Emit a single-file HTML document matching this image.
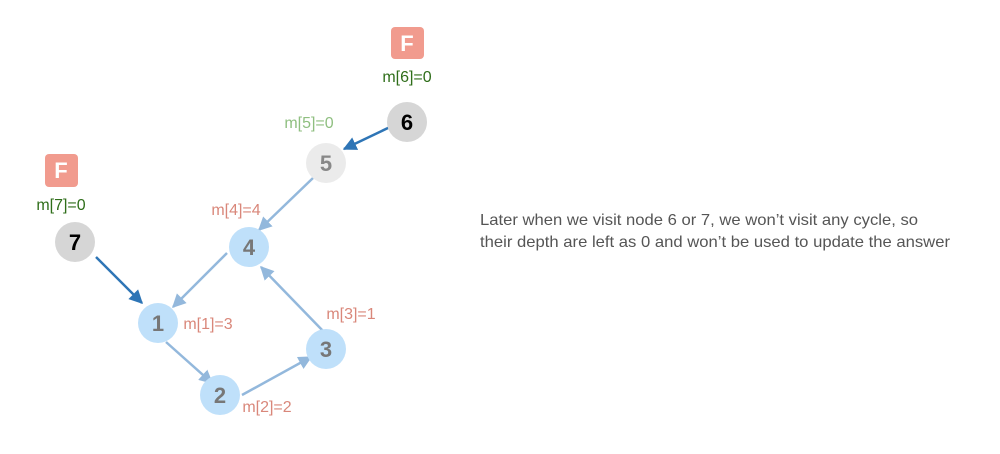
<!DOCTYPE html>
<html><head><meta charset="utf-8"><style>
html,body{margin:0;padding:0;background:#fff;width:1000px;height:454px;overflow:hidden}
svg text{font-family:"Liberation Sans",Arial,sans-serif}
</style></head><body>
<svg width="1000" height="454" viewBox="0 0 1000 454">
<defs>
<marker id="ad" viewBox="0 0 10 10" refX="9" refY="5" markerWidth="5.5" markerHeight="5.5" orient="auto"><path d="M0,0L10,5L0,10z" fill="#2e75b6"/></marker>
<marker id="al" viewBox="0 0 10 10" refX="9" refY="5" markerWidth="5.5" markerHeight="5.5" orient="auto"><path d="M0,0L10,5L0,10z" fill="#93b8dc"/></marker>
</defs>
<g stroke-width="2.5" fill="none">
<line x1="390" y1="127" x2="344" y2="149" stroke="#2e75b6" marker-end="url(#ad)"/>
<line x1="96" y1="257" x2="142" y2="303" stroke="#2e75b6" marker-end="url(#ad)"/>
<line x1="313" y1="178" x2="259" y2="230" stroke="#93b8dc" marker-end="url(#al)"/>
<line x1="227" y1="253" x2="173" y2="307" stroke="#93b8dc" marker-end="url(#al)"/>
<line x1="166" y1="342" x2="212" y2="383" stroke="#93b8dc" marker-end="url(#al)"/>
<line x1="242" y1="395" x2="311" y2="357" stroke="#93b8dc" marker-end="url(#al)"/>
<line x1="324" y1="332" x2="261" y2="267" stroke="#93b8dc" marker-end="url(#al)"/>
</g>
<g font-size="22" font-weight="bold" text-anchor="middle">
<circle cx="407" cy="122" r="20" fill="#d6d6d6"/><text x="407" y="130" fill="#000">6</text>
<circle cx="326" cy="163" r="20" fill="#ebebeb"/><text x="326" y="171" fill="#888">5</text>
<circle cx="75" cy="242" r="20" fill="#d6d6d6"/><text x="75" y="250" fill="#000">7</text>
<circle cx="249" cy="247" r="20" fill="#bfe0fa"/><text x="249" y="255" fill="#777">4</text>
<circle cx="158" cy="323" r="20" fill="#bfe0fa"/><text x="158" y="331" fill="#777">1</text>
<circle cx="326" cy="349" r="20" fill="#bfe0fa"/><text x="326" y="357" fill="#777">3</text>
<circle cx="220" cy="395" r="20" fill="#bfe0fa"/><text x="220" y="403" fill="#777">2</text>
<rect x="391" y="27" width="33" height="32" rx="4" fill="#f19b8e"/><text x="407" y="51" fill="#fff">F</text>
<rect x="45" y="154" width="33" height="33" rx="4" fill="#f19b8e"/><text x="61" y="178" fill="#fff">F</text>
</g>
<g font-size="16" text-anchor="middle">
<text x="407" y="82" fill="#2f6e1a">m[6]=0</text>
<text x="309" y="128" fill="#8fbf80">m[5]=0</text>
<text x="61" y="210" fill="#2f6e1a">m[7]=0</text>
<text x="236" y="215" fill="#d9877a">m[4]=4</text>
<text x="208" y="329" fill="#d9877a">m[1]=3</text>
<text x="351" y="319" fill="#d9877a">m[3]=1</text>
<text x="267" y="412" fill="#d9877a">m[2]=2</text>
</g>
<g font-size="16" fill="#555">
<text x="480" y="225" textLength="438" lengthAdjust="spacingAndGlyphs">Later when we visit node 6 or 7, we won’t visit any cycle, so</text>
<text x="480" y="247" textLength="470" lengthAdjust="spacingAndGlyphs">their depth are left as 0 and won’t be used to update the answer</text>
</g>
</svg>
</body></html>
